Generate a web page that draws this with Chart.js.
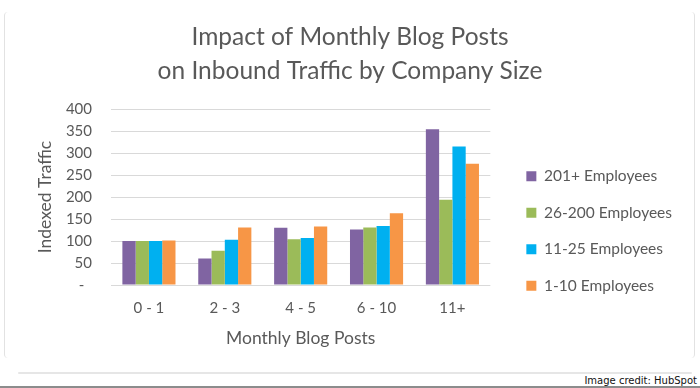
<!DOCTYPE html>
<html>
<head>
<meta charset="utf-8">
<script src="https://cdn.jsdelivr.net/npm/chart.js@4"></script>
<style>
  html, body { margin: 0; padding: 0; background: #fff; }
  body { width: 700px; height: 388px; position: relative; overflow: hidden; }
  .card {
    position: absolute; left: 4px; top: 12px; width: 689px; height: 346px;
    border-left: 1.5px solid #e2e2e2; border-right: 1.5px solid #e2e2e2;
    border-radius: 4px;
  }
  .shadow {
    position: absolute; left: 18px; right: 8px; top: 372px; height: 2px;
    background: #e6e6e6; border-radius: 2px;
  }
  .bottom { position: absolute; left: 0; right: 0; top: 386px; height: 2px; background: #8c8c8c; }
  .credit {
    position: absolute; right: 3px; top: 375px;
    font: 10px "DejaVu Sans", sans-serif; color: #111;
  }
  .wrap { position: absolute; left: 0; top: 0; width: 700px; height: 360px; }
</style>
</head>
<body>
<div class="card"></div>
<div class="shadow"></div>
<div class="bottom"></div>
<div class="credit">Image credit: HubSpot</div>
<div class="wrap"><canvas id="blogChart"></canvas></div>
<script>
const categories = ['0 - 1', '2 - 3', '4 - 5', '6 - 10', '11+'];
const seriesNames = ['201+ Employees', '26-200 Employees', '11-25 Employees', '1-10 Employees'];
const emp201 = [100, 60, 130, 126, 354];
const emp26 = [100, 78, 104, 131, 194];
const emp11 = [100, 103, 107, 134, 315];
const emp1 = [101, 131, 133, 163, 276];
const colors = ['#8064a2', '#9bbb59', '#00b0f0', '#f79646'];
const yTicks = [0, 50, 100, 150, 200, 250, 300, 350, 400];

const font = 'Lato, "Open Sans", sans-serif';
const textColor = '#595959';

const ctx = document.getElementById('blogChart').getContext('2d');
const blogChart = new Chart(ctx, {
    type: 'bar',
    data: {
        labels: categories,
        datasets: [emp201, emp26, emp11, emp1].map((vals, i) => ({
            label: seriesNames[i],
            data: vals,
            backgroundColor: colors[i],
            borderWidth: 0,
            categoryPercentage: 0.7,
            barPercentage: 1.0
        }))
    },
    options: {
        responsive: true,
        maintainAspectRatio: false,
        animation: false,
        layout: { padding: { left: 18, right: 18, top: 0, bottom: 9 } },
        plugins: {
            title: {
                display: true,
                text: ['Impact of Monthly Blog Posts', 'on Inbound Traffic by Company Size'],
                color: textColor,
                font: { family: font, size: 24.5, weight: 'normal', lineHeight: 1.35 },
                padding: { top: 21, bottom: 22 }
            },
            legend: {
                position: 'right',
                maxWidth: 260,
                // empty title only used to push the items down
                title: { display: true, text: ' ', font: { size: 10 }, padding: { top: 99, bottom: 0 } },
                labels: {
                    color: textColor,
                    font: { family: font, size: 15.5 },
                    boxWidth: 10,
                    boxHeight: 10,
                    padding: 21
                }
            },
            tooltip: { enabled: false }
        },
        scales: {
            x: {
                grid: { display: false, drawTicks: false },
                border: { display: false },
                ticks: { color: textColor, font: { family: font, size: 15 }, padding: 14, maxRotation: 0 },
                title: {
                    display: true, text: 'Monthly Blog Posts', color: textColor,
                    font: { family: font, size: 17.5 }, padding: { top: 0, bottom: 2 }
                },
                afterFit: (scale) => { scale.height = 66; }
            },
            y: {
                min: 0,
                max: 400,
                afterBuildTicks: (scale) => { scale.ticks = yTicks.map(v => ({ value: v })); },
                grid: { color: '#d9d9d9', lineWidth: 1, drawTicks: false },
                border: { display: false },
                ticks: {
                    color: textColor, font: { family: font, size: 15 }, padding: 19, autoSkip: false,
                    callback: (v) => v === 0 ? '-  ' : v
                },
                title: {
                    display: true, text: 'Indexed Traffic', color: textColor,
                    font: { family: font, size: 17.5 }, padding: { top: 17, bottom: 0 }
                },
                afterFit: (scale) => { scale.width = 93; }
            },
            gap: {
                type: 'linear',
                position: 'right',
                display: true,
                grid: { display: false, drawTicks: false },
                border: { display: false },
                ticks: { display: false },
                afterFit: (scale) => { scale.width = 15; }
            }
        }
    }
});
</script>
</body>
</html>
